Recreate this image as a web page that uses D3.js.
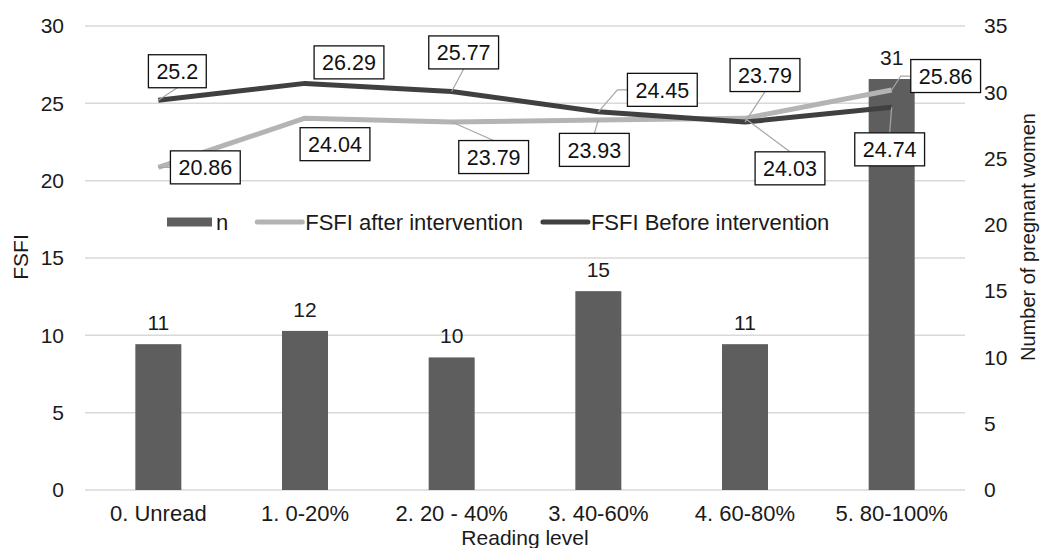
<!DOCTYPE html>
<html>
<head>
<meta charset="utf-8">
<script src="https://cdn.jsdelivr.net/npm/d3@7"></script>
<style>
  html, body { margin: 0; padding: 0; background: #fff; }
  svg { display: block; font-family: "Liberation Sans", Arial, sans-serif; }
</style>
</head>
<body>
<svg id="chart" width="1041" height="548"></svg>
<script>
// ---- data ----
const categories = ["0. Unread", "1. 0-20%", "2. 20 - 40%", "3. 40-60%", "4. 60-80%", "5. 80-100%"];
const nValues = [11, 12, 10, 15, 11, 31];
const fsfiAfter = [20.86, 24.04, 23.79, 23.93, 24.03, 25.86];
const fsfiBefore = [25.2, 26.29, 25.77, 24.45, 23.79, 24.74];
const leftTicks = [0, 5, 10, 15, 20, 25, 30];
const rightTicks = [0, 5, 10, 15, 20, 25, 30, 35];
const seriesNames = ["n", "FSFI after intervention", "FSFI Before intervention"];
const xTitle = "Reading level";
const yLeftTitle = "FSFI";
const yRightTitle = "Number of pregnant women";

// label placement offsets (box centre relative to point), layout only
const beforeLabelOffsets = [[19, -29], [44, -21], [12, -39], [64, -22], [20, -47], [-2, 42]];
const afterLabelOffsets = [[47, 0], [30, 26], [42, 35], [-4, 30], [45, 50], [54, -14]];

// ---- layout ----
const svg = d3.select("#chart");
const plot = { left: 85, right: 965, top: 26, bottom: 490 };
const FONT = 21;

const x = d3.scaleBand().domain(categories).range([plot.left, plot.right]).paddingInner(0).paddingOuter(0);
const yL = d3.scaleLinear().domain([0, 30]).range([plot.bottom, plot.top]);
const yR = d3.scaleLinear().domain([0, 35]).range([plot.bottom, plot.top]);
const cx = c => x(c) + x.bandwidth() / 2;

const colBar = "#5e5e5e", colAfter = "#b4b4b4", colBefore = "#404040", colGrid = "#d9d9d9", colText = "#1a1a1a";

// gridlines
svg.append("g").selectAll("line").data(leftTicks).join("line")
  .attr("x1", plot.left).attr("x2", plot.right)
  .attr("y1", d => yL(d)).attr("y2", d => yL(d))
  .attr("stroke", colGrid).attr("stroke-width", 1.5);

// left axis
const axL = svg.append("g").attr("transform", `translate(${plot.left},0)`)
  .call(d3.axisLeft(yL).tickValues(leftTicks).tickSize(0).tickPadding(21));
axL.select(".domain").remove();
axL.selectAll("text").attr("font-size", FONT).attr("fill", colText).attr("font-family", "Liberation Sans, Arial, sans-serif");

// right axis
const axR = svg.append("g").attr("transform", `translate(${plot.right},0)`)
  .call(d3.axisRight(yR).tickValues(rightTicks).tickSize(0).tickPadding(19));
axR.select(".domain").remove();
axR.selectAll("text").attr("font-size", FONT).attr("fill", colText).attr("font-family", "Liberation Sans, Arial, sans-serif");

// x axis
const axX = svg.append("g").attr("transform", `translate(0,${plot.bottom})`)
  .call(d3.axisBottom(x).tickSize(0).tickPadding(15));
axX.select(".domain").remove();
axX.selectAll("text").attr("font-size", 22).attr("fill", colText).attr("font-family", "Liberation Sans, Arial, sans-serif");

// bars
const barW = 46;
svg.append("g").selectAll("rect").data(nValues).join("rect")
  .attr("x", (d, i) => cx(categories[i]) - barW / 2)
  .attr("width", barW)
  .attr("y", d => yR(d))
  .attr("height", d => yR(0) - yR(d))
  .attr("fill", colBar);

svg.append("g").selectAll("text").data(nValues).join("text")
  .attr("x", (d, i) => cx(categories[i]))
  .attr("y", d => yR(d) - 14)
  .attr("text-anchor", "middle")
  .attr("font-size", FONT).attr("fill", colText)
  .text(d => d);

// lines
const lineGen = d3.line().x((d, i) => cx(categories[i])).y(d => yL(d));
svg.append("path").datum(fsfiAfter).attr("d", lineGen)
  .attr("fill", "none").attr("stroke", colAfter).attr("stroke-width", 5).attr("stroke-linejoin", "round");
svg.append("path").datum(fsfiBefore).attr("d", lineGen)
  .attr("fill", "none").attr("stroke", colBefore).attr("stroke-width", 5).attr("stroke-linejoin", "round");

// data labels with leader lines
function drawLabels(values, offsets) {
  const g = svg.append("g");
  values.forEach((v, i) => {
    const px = cx(categories[i]), py = yL(v);
    const bx = px + offsets[i][0], by = py + offsets[i][1];
    const t = g.append("text").attr("x", bx).attr("y", by).attr("dy", "0.36em")
      .attr("text-anchor", "middle").attr("font-size", 21.5).attr("fill", "#111")
      .text(v);
    const w = t.node().getComputedTextLength() + 16, h = 33;
    const left = bx - w / 2, right = bx + w / 2, top = by - h / 2, bottom = by + h / 2;
    const nearY = py > top - 15 && py < bottom + 15;
    let pts = null;
    if (px < left - 10 && nearY) {
      pts = [[px, py], [left - 10, by], [left, by]];
    } else if (px > right + 10 && nearY) {
      pts = [[px, py], [right + 10, by], [right, by]];
    } else if (py > bottom + 12) {
      pts = [[px, py], [bx, bottom]];
    } else if (py < top - 12) {
      pts = [[px, py], [bx, top]];
    }
    if (pts) {
      g.insert("path", "text").attr("d", d3.line()(pts))
        .attr("fill", "none").attr("stroke", "#a6a6a6").attr("stroke-width", 1.2);
    }
    g.insert("rect", "text").attr("x", left).attr("y", top).attr("width", w).attr("height", h)
      .attr("fill", "#fff").attr("stroke", "#111").attr("stroke-width", 1.3);
  });
}
drawLabels(fsfiBefore, beforeLabelOffsets);
drawLabels(fsfiAfter, afterLabelOffsets);

// legend
const lg = svg.append("g").attr("transform", "translate(167,222)");
let lx = 0;
seriesNames.forEach((name, i) => {
  if (i === 0) {
    lg.append("rect").attr("x", lx).attr("y", -4.5).attr("width", 45).attr("height", 9).attr("fill", colBar);
  } else {
    lg.append("line").attr("x1", lx).attr("x2", lx + 45).attr("y1", 0).attr("y2", 0)
      .attr("stroke", i === 1 ? colAfter : colBefore).attr("stroke-width", 5).attr("stroke-linecap", "round");
  }
  const t = lg.append("text").attr("x", lx + (i === 0 ? 49 : 48)).attr("y", 0).attr("dy", "0.36em")
    .attr("font-size", 22).attr("fill", colText).text(name);
  lx += (i === 0 ? 49 : 48) + t.node().getComputedTextLength() + (i === 0 ? 29 : 20);
});

// axis titles
svg.append("text").attr("x", 525).attr("y", 545).attr("text-anchor", "middle")
  .attr("font-size", 21).attr("fill", colText).text(xTitle);
svg.append("text").attr("transform", "translate(20,257) rotate(-90)").attr("dy", "0.36em")
  .attr("text-anchor", "middle").attr("font-size", 21).attr("fill", colText).text(yLeftTitle);
svg.append("text").attr("transform", "translate(1028,237) rotate(-90)").attr("dy", "0.36em")
  .attr("text-anchor", "middle").attr("font-size", 20).attr("fill", colText).text(yRightTitle);
</script>
</body>
</html>
